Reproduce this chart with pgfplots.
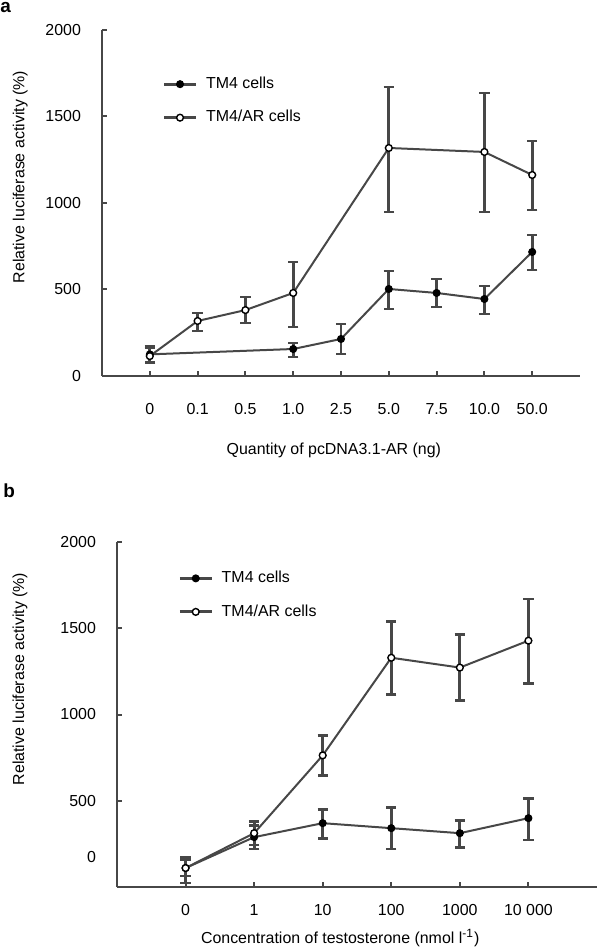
\documentclass[border=0pt]{standalone}
\usepackage{pgfplots}
\usepackage{pgfplotstable}
\pgfplotsset{compat=1.18}
\usepackage{fontspec}
\setmainfont{Liberation Sans}

\pgfplotstableread{
x y ep em
0 125 45 45
3 156 35 46
4 214 86 87
5 503 104 116
6 480 81 81
7 445 75 87
8 717 98 104
}\tmA
\pgfplotstableread{
x y ep em
0 115 47 40
1 318 46 58
2 381 76 75
3 480 179 197
5 1318 352 370
7 1295 341 347
8 1162 196 203
}\arA
\pgfplotstableread{
x y ep em
0 110 46 46
1 289 69 69
2 370 81 87
3 341 121 121
4 312 75 81
5 399 115 127
}\tmB
\pgfplotstableread{
x y ep em
0 110 63 87
1 312 69 69
2 763 116 116
3 1329 208 214
4 1272 190 191
5 1428 242 249
}\arB

\newcommand{\fs}{\fontsize{8}{9.6}\selectfont}
\definecolor{dk}{HTML}{474747}
\pgfplotsset{
  panel/.style={
    scale only axis,
    axis x line=bottom, axis y line=left,
    axis line style={-, dk, line width=1.3bp},
    ymin=0, ymax=2000,
    tick align=inside, major tick length=2.5bp,
    tick style={dk, line width=1bp},
    ticklabel style={font=\fs},
    label style={font=\fs},
    /pgf/number format/assume math mode=true,
    /pgf/number format/1000 sep={},
    yticklabel style={xshift=-7bp},
    legend style={draw=none, fill=none, font=\fs, inner sep=0pt, row sep=5.5bp},
    legend cell align=left,
    legend image code/.code={
      \draw[mark repeat=2, mark phase=2, ##1, line width=1.4bp] plot coordinates {(0bp,0bp)(8bp,0bp)(16bp,0bp)};
      \path (18.5bp,0bp);
    },
  },
  tmstyle/.style={dk, line width=1bp, mark=*, mark size=1.7bp,
    mark options={fill=black, draw=black, line width=0.6bp},
    error bars/.cd, y dir=both, y explicit,
    error bar style={line width=1.4bp, dk},
    error mark options={rotate=90, mark size=2.6bp, line width=1.4bp, dk}},
  arstyle/.style={dk, line width=1bp, mark=*, mark size=1.7bp,
    mark options={fill=white, draw=black, line width=0.7bp},
    error bars/.cd, y dir=both, y explicit,
    error bar style={line width=1.4bp, dk},
    error mark options={rotate=90, mark size=2.6bp, line width=1.4bp, dk}},
}

\begin{document}
\begin{tikzpicture}
\path[use as bounding box] (0,0) rectangle (300bp,474bp);
\node[anchor=base west, font=\bfseries\fontsize{9.5}{11}\selectfont, inner sep=0pt] at (0bp,467.5bp) {a};
\node[anchor=base west, font=\bfseries\fontsize{9.5}{11}\selectfont, inner sep=0pt] at (1.5bp,225bp) {b};

\begin{axis}[panel,
  at={(51bp,286bp)}, anchor=south west,
  width=239bp, height=173bp,
  xmin=-1, xmax=9,
  xtick={0,...,8},
  xticklabels={0,0.1,0.5,1.0,2.5,5.0,7.5,10.0,50.0},
  xticklabel style={yshift=-10bp},
  ytick={0,500,1000,1500,2000},
  xlabel={Quantity of pcDNA3.1-AR (ng)},
  ylabel={Relative luciferase activity (\%)},
  xlabel style={at={(axis description cs:0.485,-0.214)}, anchor=center},
  ylabel style={at={(axis description cs:-0.171,0.575)}, anchor=center},
  legend style={at={(axis description cs:0.126,0.795)}, anchor=west},
]
\addplot+[tmstyle] table[x=x, y=y, y error plus=ep, y error minus=em]{\tmA};
\addlegendentry{TM4 cells}
\addplot+[arstyle] table[x=x, y=y, y error plus=ep, y error minus=em]{\arA};
\addlegendentry{TM4/AR cells}
\end{axis}

\begin{axis}[panel,
  at={(58.5bp,30.5bp)}, anchor=south west,
  width=240bp, height=172.5bp,
  xmin=-1, xmax=6,
  xtick={0,...,5},
  xticklabels={0,1,10,100,1000,10 000},
  xticklabel style={yshift=-5bp},
  ytick={500,1000,1500,2000},
  extra y ticks={173}, extra y tick labels={0},
  extra y tick style={major tick length=0pt},
  xlabel={Concentration of testosterone (nmol l\textsuperscript{-1})},
  ylabel={Relative luciferase activity (\%)},
  xlabel style={at={(axis description cs:0.465,-0.148)}, anchor=center},
  ylabel style={at={(axis description cs:-0.202,0.603)}, anchor=center},
  legend style={at={(axis description cs:0.127,0.846)}, anchor=west},
]
\addplot+[tmstyle] table[x=x, y=y, y error plus=ep, y error minus=em]{\tmB};
\addlegendentry{TM4 cells}
\addplot+[arstyle] table[x=x, y=y, y error plus=ep, y error minus=em]{\arB};
\addlegendentry{TM4/AR cells}
\end{axis}
\end{tikzpicture}
\end{document}
